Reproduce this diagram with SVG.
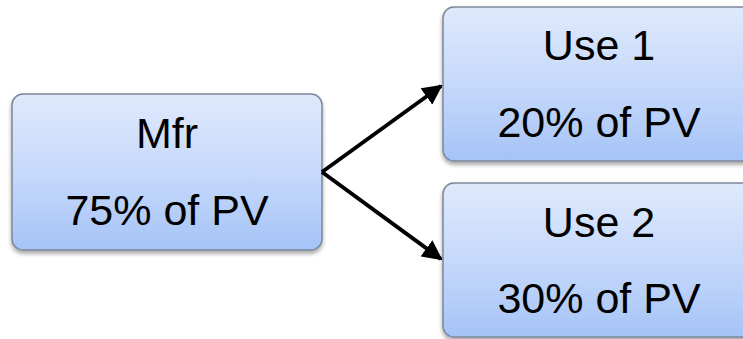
<svg xmlns="http://www.w3.org/2000/svg" width="743" height="339" viewBox="0 0 743 339">
  <defs>
    <linearGradient id="fill" x1="0" y1="0" x2="0" y2="1">
      <stop offset="0" stop-color="#dfe9fc"/>
      <stop offset="0.5" stop-color="#c6d9fa"/>
      <stop offset="1" stop-color="#a6c3f7"/>
    </linearGradient>
    <filter id="shadow" x="-10%" y="-10%" width="120%" height="130%">
      <feGaussianBlur in="SourceAlpha" stdDeviation="2"/>
      <feOffset dx="0" dy="3" result="b"/>
      <feComponentTransfer><feFuncA type="linear" slope="0.35"/></feComponentTransfer>
      <feMerge><feMergeNode/><feMergeNode in="SourceGraphic"/></feMerge>
    </filter>
    <marker id="arrow" viewBox="0 0 10 10" refX="9" refY="5" markerWidth="5" markerHeight="5" markerUnits="strokeWidth" orient="auto">
      <path d="M0,0 L10,5 L0,10 z" fill="#000"/>
    </marker>
  </defs>
  <style>
    .box { fill: url(#fill); stroke: #7d8799; stroke-width: 1.5; filter: url(#shadow); }
    .label { font-family: "Liberation Sans", Arial, sans-serif; font-size: 43px; fill: #000; text-anchor: middle; }
    .conn { stroke: #000; stroke-width: 4; fill: none; marker-end: url(#arrow); }
  </style>
  <g id="mfr">
    <rect class="box" x="12" y="94" width="310" height="156" rx="11"/>
    <text class="label" x="167" y="148">Mfr</text>
    <text class="label" x="167" y="225">75% of PV</text>
  </g>
  <g id="use1">
    <rect class="box" x="443" y="7" width="320" height="154" rx="11"/>
    <text class="label" x="599" y="60">Use 1</text>
    <text class="label" x="599" y="137">20% of PV</text>
  </g>
  <g id="use2">
    <rect class="box" x="443" y="183" width="320" height="154" rx="11"/>
    <text class="label" x="599" y="237">Use 2</text>
    <text class="label" x="599" y="313">30% of PV</text>
  </g>
  <g id="connectors">
    <path class="conn" d="M322,172 L441,86"/>
    <path class="conn" d="M322,172 L441,259"/>
  </g>
</svg>
